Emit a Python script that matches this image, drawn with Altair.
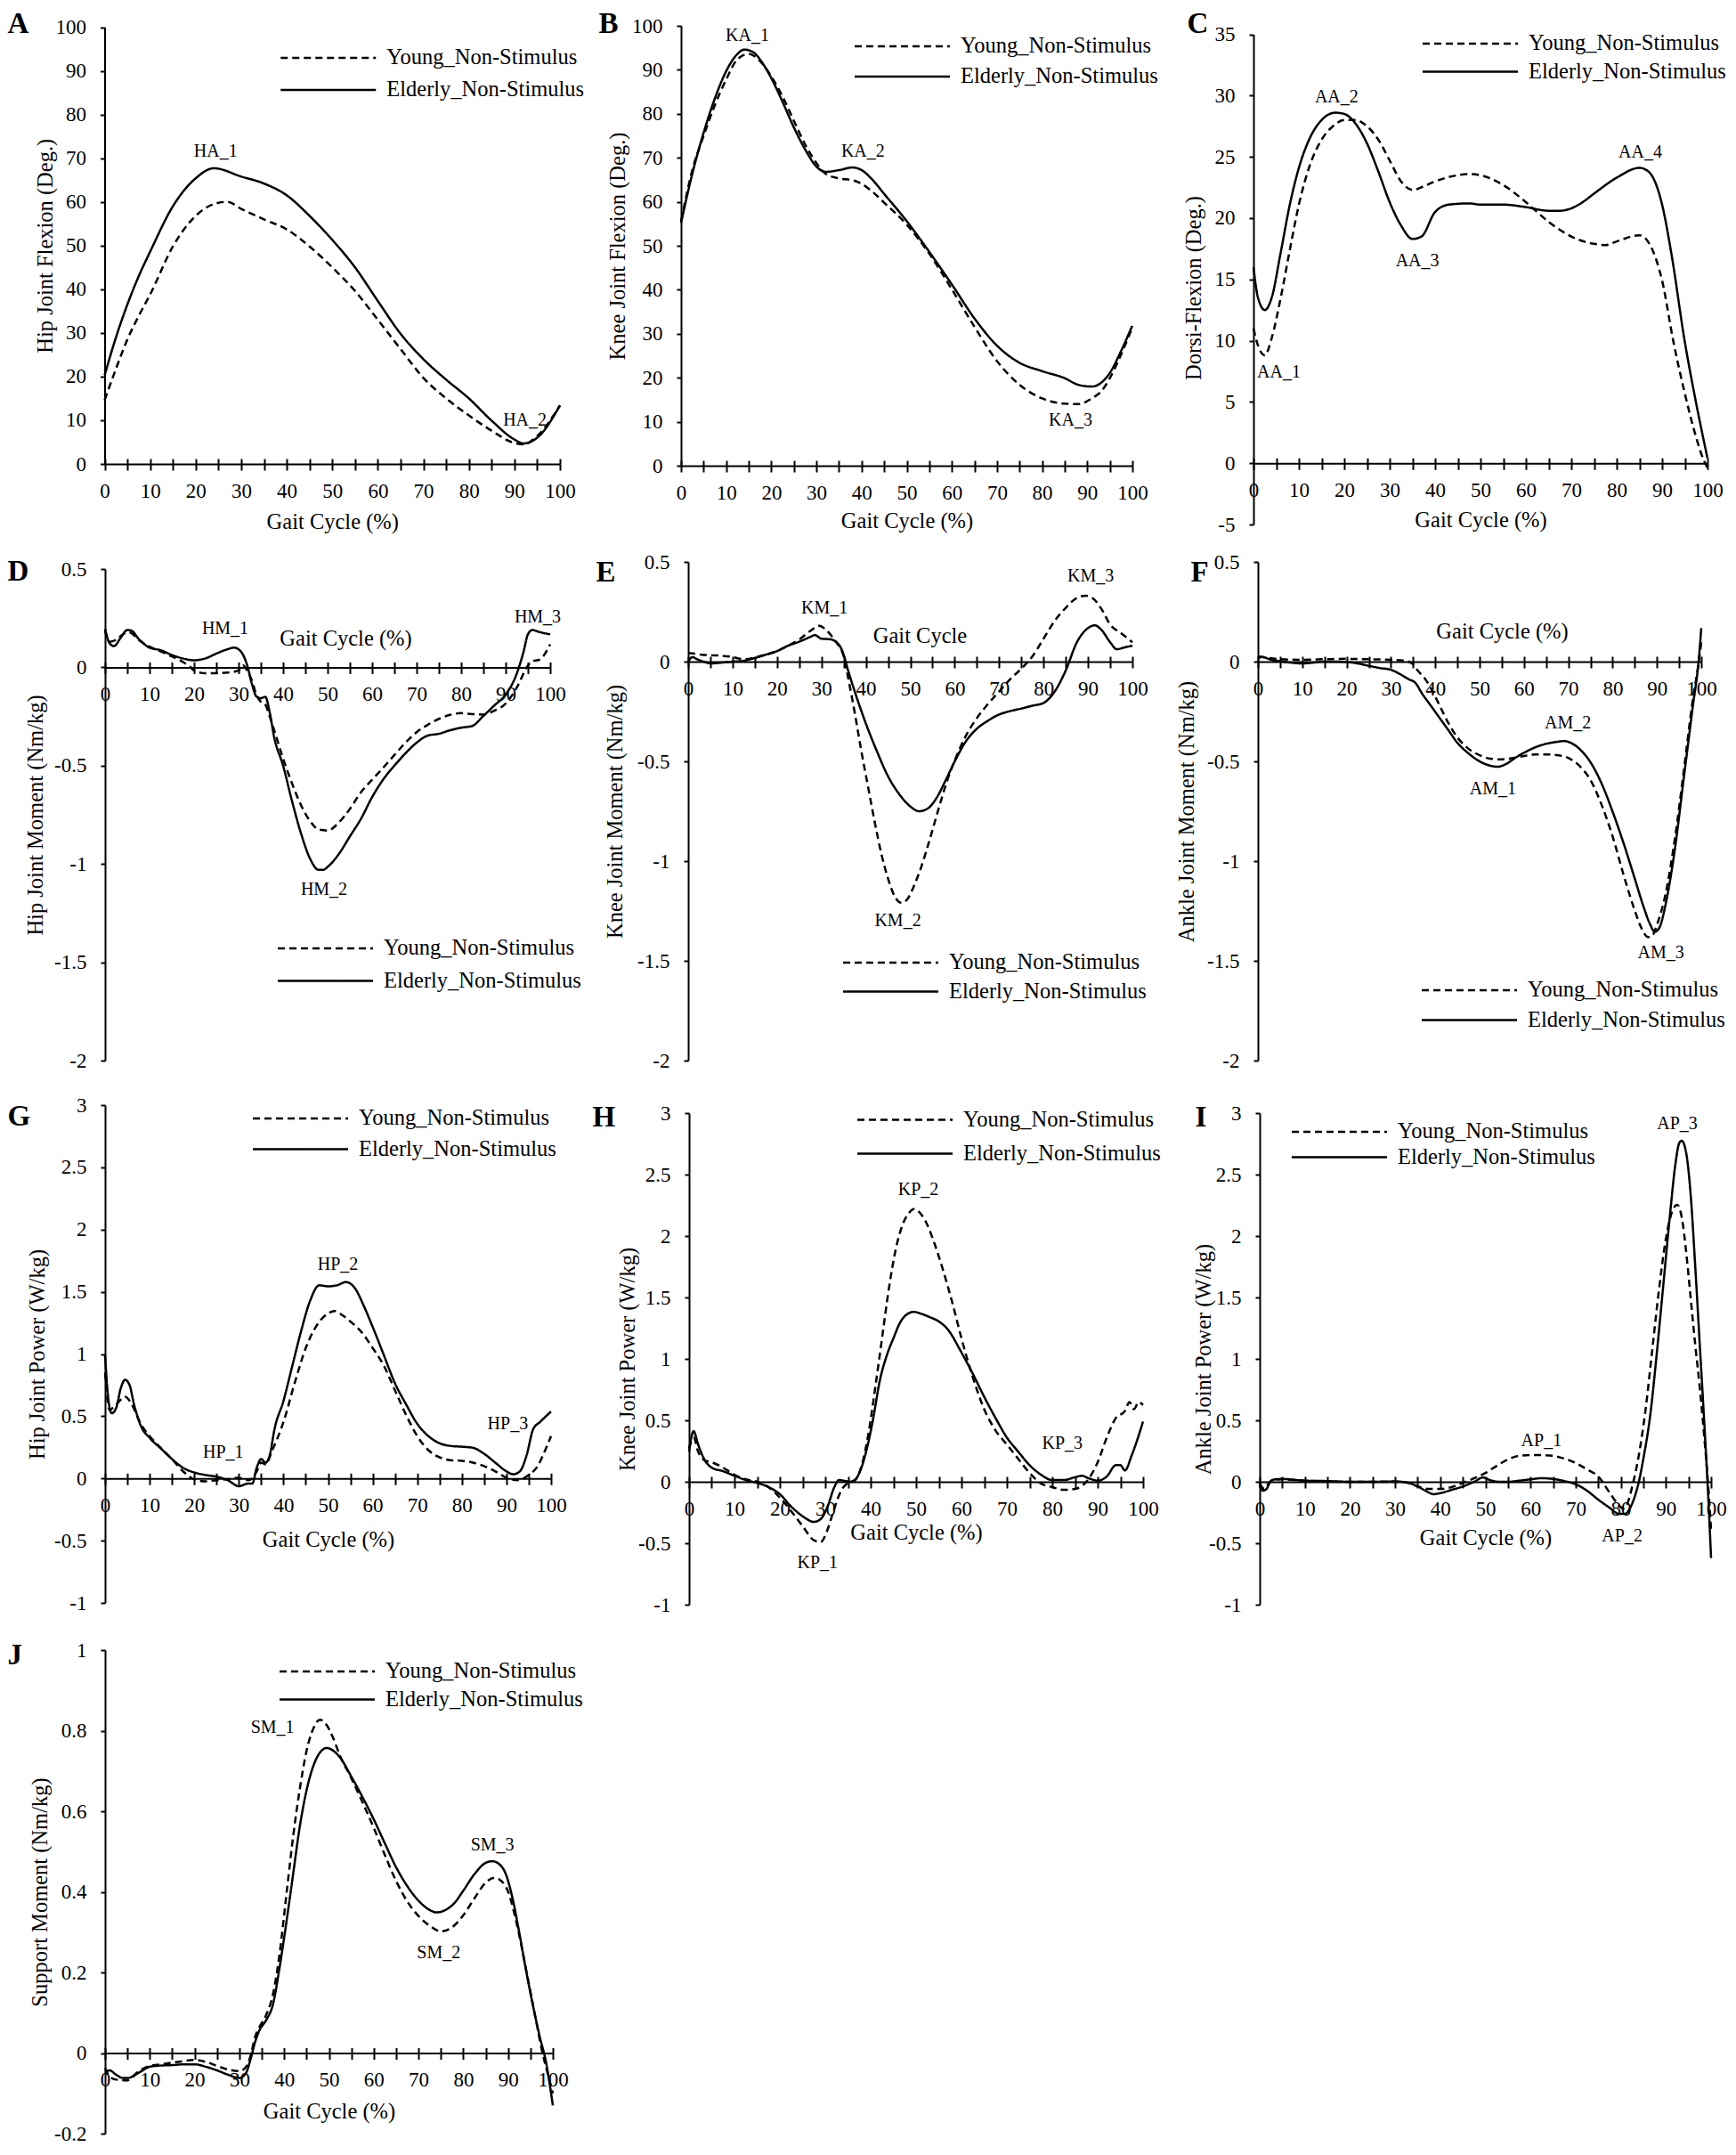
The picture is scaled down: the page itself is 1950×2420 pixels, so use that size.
import altair as alt
import pandas as pd

# ---------------- data ----------------
YOUNG = "Young_Non-Stimulus"
ELDER = "Elderly_Non-Stimulus"

# A  Hip joint flexion (deg)
A_YOUNG_X = [0, 2.5, 5, 7.5, 10, 15, 20, 25, 27, 30, 35, 40, 45, 50, 55, 60, 65, 70, 75, 80, 85, 90, 92, 95, 100]
A_YOUNG_Y = [14.6, 21.8, 28.5, 33.9, 38.8, 49.8, 56.8, 59.8, 60, 58.4, 56, 53.7, 49.8, 45, 39.6, 33, 26.3, 19.7, 15, 11.1, 7.6, 4.8, 4.5, 6.4, 13.4]
A_ELDER_X = [0, 2.5, 5, 7.5, 10, 15, 20, 24, 30, 35, 40, 45, 50, 55, 60, 65, 70, 75, 80, 85, 90, 92, 95, 100]
A_ELDER_Y = [20.3, 29, 36.5, 43, 48.6, 59, 65.4, 67.7, 65.8, 64.2, 61.5, 56.8, 51.3, 45, 37.3, 29.8, 24, 19.3, 15, 9.9, 5.6, 4.7, 6, 13.4]
A_LABELS = ["HA_1", "HA_2"]
A_LABEL_X = [24.4, 92.3]
A_LABEL_Y = [71.6, 9.9]

# B  Knee joint flexion (deg)
B_YOUNG_X = [0, 2.5, 5, 7.5, 10, 12.5, 15, 17.5, 20, 22.5, 25, 27.5, 30, 32, 35, 38, 40, 42.5, 45, 50, 55, 60, 65, 70, 75, 80, 85, 88, 91, 93, 95, 97.5, 100]
B_YOUNG_Y = [55.6, 67.2, 75, 82, 87.8, 92.4, 93.6, 92, 88.5, 83.9, 78.4, 73, 68.8, 66.4, 65.3, 64.9, 64.1, 62.2, 59.8, 54.8, 48.2, 40.1, 31.6, 23.8, 18.4, 15.3, 14.1, 14, 15.3, 16.8, 19.9, 25.3, 31.5]
B_ELDER_X = [0, 2.5, 5, 7.5, 10, 12.5, 14, 16, 18, 20, 22.5, 25, 27.5, 30, 32, 35, 38, 40, 42.5, 45, 50, 55, 60, 65, 70, 75, 80, 85, 88, 91, 93, 95, 97.5, 100]
B_ELDER_Y = [55.2, 66.4, 75.7, 83.5, 89.7, 93.6, 94.6, 94, 91.6, 88.1, 82.7, 76.9, 71.9, 68, 66.8, 67.2, 67.8, 67.2, 64.9, 61.8, 55.6, 48.6, 41.2, 33.5, 27.3, 23.4, 21.5, 19.9, 18.4, 18, 18.8, 21.1, 26.1, 31.9]
B_LABELS = ["KA_1", "KA_2", "KA_3"]
B_LABEL_X = [14.7, 40.3, 86.3]
B_LABEL_Y = [97.8, 71.5, 10.4]

# C  Dorsi-flexion (deg)
C_YOUNG_X = [0, 1, 2.5, 4, 6, 8, 10, 12.5, 15, 17.5, 20, 22.5, 25, 27.5, 30, 32.5, 35, 37.5, 40, 45, 47.5, 50, 55, 60, 65, 70, 75, 77.5, 80, 85, 87.5, 90, 92.5, 95, 97.5, 99, 100]
C_YOUNG_Y = [11, 9.6, 8.8, 10.2, 13.5, 17.4, 21.1, 24.4, 26.4, 27.5, 28, 28, 27.5, 26.4, 24.7, 23, 22.3, 22.6, 23, 23.5, 23.6, 23.5, 22.7, 21.3, 19.7, 18.5, 17.9, 17.8, 18.1, 18.6, 17.7, 14.9, 9.9, 5.7, 2.1, 0.4, -0.4]
C_ELDER_X = [0, 1, 2.5, 4, 6, 8, 10, 12.5, 15, 18, 20, 22.5, 25, 27.5, 30, 32.5, 35, 37, 40, 43, 47.5, 50, 55, 60, 65, 67.5, 70, 72.5, 75, 80, 85, 87, 90, 92, 95, 97.5, 100]
C_ELDER_Y = [16, 13.5, 12.5, 13.5, 17.2, 21.1, 24.1, 26.6, 28, 28.6, 28.5, 27.7, 26.1, 23.8, 21.3, 19.4, 18.3, 18.5, 20.5, 21.1, 21.2, 21.1, 21.1, 20.9, 20.6, 20.6, 20.8, 21.3, 22, 23.3, 24.1, 23.8, 21.1, 17.2, 9.9, 4.9, 0.4]
C_LABELS = ["AA_1", "AA_2", "AA_3", "AA_4"]
C_LABEL_X = [5.6, 18.3, 36.1, 85.2]
C_LABEL_Y = [7.4, 29.9, 16.5, 25.4]

# D  Hip joint moment (Nm/kg)
D_YOUNG_X = [0, 1, 2.5, 4, 5.5, 7.5, 10, 12.5, 15, 17.5, 19, 20, 22.5, 25, 27.5, 30, 31, 32, 33, 34, 35, 36, 37, 38, 40, 42, 44, 46, 48, 50, 52.5, 55, 57.5, 60, 62.5, 65, 67.5, 70, 72.5, 75, 77.5, 80, 82.5, 85, 87.5, 90, 92.5, 95, 96, 97.5, 100]
D_YOUNG_Y = [0.186, 0.13, 0.14, 0.168, 0.177, 0.14, 0.105, 0.081, 0.056, 0.027, 0.005, -0.016, -0.03, -0.03, -0.027, -0.016, 0.01, -0.02, -0.067, -0.14, -0.175, -0.19, -0.25, -0.32, -0.464, -0.59, -0.7, -0.78, -0.825, -0.83, -0.79, -0.72, -0.635, -0.572, -0.51, -0.446, -0.383, -0.33, -0.292, -0.262, -0.242, -0.233, -0.238, -0.24, -0.22, -0.184, -0.103, 0.009, 0.032, 0.038, 0.117]
D_ELDER_X = [0, 1, 2, 3.5, 5, 6, 7.5, 10, 12.5, 15, 17.5, 20, 22.5, 25, 27.5, 29, 30.5, 32, 33, 34, 35, 36, 37, 38, 40, 42, 44, 46, 48, 49, 50, 52.5, 55, 57.5, 60, 62.5, 65, 67.5, 70, 72.5, 75, 77.5, 80, 82.5, 85, 87.5, 90, 92.5, 94, 95, 96, 97.5, 100]
D_ELDER_Y = [0.195, 0.123, 0.108, 0.15, 0.19, 0.186, 0.146, 0.1, 0.087, 0.063, 0.045, 0.036, 0.045, 0.07, 0.092, 0.1, 0.081, 0.005, -0.085, -0.148, -0.157, -0.15, -0.23, -0.356, -0.5, -0.68, -0.843, -0.97, -1.03, -1.03, -1.015, -0.95, -0.86, -0.77, -0.66, -0.57, -0.5, -0.437, -0.383, -0.347, -0.338, -0.32, -0.307, -0.298, -0.247, -0.193, -0.139, -0.031, 0.078, 0.168, 0.19, 0.18, 0.168]
D_LABELS = ["HM_1", "HM_2", "HM_3"]
D_LABEL_X = [27, 49.2, 97.2]
D_LABEL_Y = [0.195, -1.13, 0.256]

# E  Knee joint moment (Nm/kg)
E_YOUNG_X = [0, 1.5, 3, 5, 7.5, 10, 12.5, 15, 17.5, 20, 22.5, 25, 27.5, 29.5, 31, 33, 35, 36, 37.5, 39, 40.5, 42, 43.5, 45, 46.5, 48, 49.5, 51, 52.5, 54, 55.5, 57, 58.5, 60, 62.5, 65, 67.5, 70, 72.5, 75, 77.5, 80, 82.5, 85, 87.5, 89.5, 91, 93, 95, 97.5, 100]
E_YOUNG_Y = [0.044, 0.04, 0.035, 0.032, 0.03, 0.023, 0.012, 0.021, 0.035, 0.053, 0.08, 0.111, 0.154, 0.18, 0.16, 0.106, 0.027, -0.08, -0.257, -0.451, -0.628, -0.805, -0.965, -1.088, -1.177, -1.209, -1.186, -1.115, -1.027, -0.92, -0.805, -0.69, -0.584, -0.496, -0.372, -0.283, -0.212, -0.15, -0.088, -0.035, 0.027, 0.115, 0.204, 0.27, 0.319, 0.33, 0.319, 0.265, 0.186, 0.142, 0.097]
E_ELDER_X = [0, 1, 2, 3.5, 5, 7.5, 10, 12.5, 15, 17.5, 20, 22.5, 25, 27.5, 28.5, 30, 32, 34, 35, 36, 37.5, 40, 42.5, 45, 47.5, 50, 52, 54, 56, 58, 60, 62.5, 65, 67.5, 70, 72.5, 75, 77.5, 80, 82.5, 85, 87.5, 90, 91.5, 93, 95, 96.5, 98, 100]
E_ELDER_Y = [0, 0.023, 0.012, 0, -0.009, -0.005, 0, 0.004, 0.018, 0.035, 0.053, 0.08, 0.1, 0.124, 0.133, 0.115, 0.112, 0.083, 0.035, -0.044, -0.15, -0.31, -0.45, -0.575, -0.664, -0.726, -0.75, -0.735, -0.68, -0.593, -0.5, -0.4, -0.336, -0.296, -0.265, -0.248, -0.235, -0.221, -0.207, -0.15, -0.044, 0.097, 0.168, 0.182, 0.16, 0.097, 0.062, 0.07, 0.08]
E_LABELS = ["KM_1", "KM_2", "KM_3"]
E_LABEL_X = [30.7, 47.2, 90.6]
E_LABEL_Y = [0.269, -1.297, 0.428]

# F  Ankle joint moment (Nm/kg)
F_YOUNG_X = [0, 2.5, 5, 10, 15, 20, 25, 30, 33, 35, 36, 37.5, 39, 41, 43, 45, 47.5, 50, 52.5, 55, 57.5, 60, 62.5, 65, 67.5, 70, 72.5, 75, 77.5, 80, 82.5, 85, 86.5, 88, 89, 90, 92, 94, 96, 98, 99.5, 100]
F_YOUNG_Y = [0.027, 0.018, 0.012, 0.009, 0.012, 0.014, 0.012, 0.009, 0.005, -0.012, -0.044, -0.08, -0.133, -0.221, -0.31, -0.38, -0.437, -0.469, -0.487, -0.49, -0.483, -0.473, -0.465, -0.465, -0.469, -0.483, -0.522, -0.593, -0.717, -0.876, -1.071, -1.248, -1.336, -1.381, -1.372, -1.319, -1.159, -0.894, -0.558, -0.204, 0.009, 0.097]
F_ELDER_X = [0, 1, 3, 5, 7.5, 10, 12.5, 15, 17.5, 20, 22.5, 25, 27.5, 30, 32, 34, 35.5, 37, 39, 41, 43, 45, 47.5, 50, 52.5, 54, 56, 58, 60, 62.5, 65, 67.5, 69, 71, 73, 75, 77.5, 80, 82.5, 85, 87, 88.5, 89.5, 90.5, 92, 94, 96, 98, 99.5, 100]
F_ELDER_Y = [0.018, 0.023, 0.009, 0.002, -0.005, -0.009, -0.005, 0, 0, -0.002, -0.009, -0.021, -0.032, -0.041, -0.062, -0.088, -0.106, -0.159, -0.221, -0.283, -0.345, -0.407, -0.46, -0.5, -0.522, -0.527, -0.513, -0.483, -0.457, -0.43, -0.412, -0.402, -0.398, -0.412, -0.448, -0.504, -0.61, -0.752, -0.912, -1.088, -1.23, -1.319, -1.354, -1.336, -1.212, -0.947, -0.593, -0.239, 0.027, 0.168]
F_LABELS = ["AM_1", "AM_2", "AM_3"]
F_LABEL_X = [53, 69.9, 90.9]
F_LABEL_Y = [-0.637, -0.31, -1.46]

# G  Hip joint power (W/kg)
G_YOUNG_X = [0, 1, 2.5, 4.5, 6, 8, 10, 12.5, 15, 17.5, 20, 22.5, 25, 27.5, 30, 32, 33, 34, 35, 36, 37.5, 40, 42.5, 45, 47.5, 50, 51.5, 53, 55, 57.5, 60, 62.5, 65, 67.5, 70, 72.5, 75, 77.5, 80, 82.5, 85, 87.5, 90, 92.5, 95, 97, 98.5, 100]
G_YOUNG_Y = [0.85, 0.552, 0.595, 0.657, 0.595, 0.439, 0.34, 0.246, 0.156, 0.057, -0.008, -0.023, -0.014, -0.006, 0.006, -0.014, 0, 0.057, 0.127, 0.113, 0.227, 0.453, 0.765, 1.048, 1.232, 1.326, 1.346, 1.317, 1.261, 1.176, 1.048, 0.907, 0.708, 0.51, 0.34, 0.227, 0.17, 0.147, 0.142, 0.127, 0.099, 0.057, 0.006, -0.014, 0.028, 0.099, 0.212, 0.34]
G_ELDER_X = [0, 0.7, 1.5, 2.5, 3.5, 4.5, 5.5, 6.5, 8, 10, 12.5, 15, 17.5, 20, 22.5, 25, 27.5, 30, 32, 33, 34, 35, 36, 37, 38, 40, 42, 44, 46, 48, 50, 52, 54, 56, 58, 60, 62.5, 65, 67.5, 70, 72.5, 75, 77.5, 80, 82.5, 85, 87.5, 90, 91.5, 93, 94.5, 96, 97.5, 100]
G_ELDER_Y = [0.99, 0.65, 0.524, 0.567, 0.722, 0.793, 0.75, 0.595, 0.425, 0.326, 0.241, 0.156, 0.085, 0.048, 0.028, 0.014, -0.014, -0.062, -0.042, -0.042, 0.085, 0.156, 0.127, 0.198, 0.397, 0.623, 0.907, 1.19, 1.43, 1.552, 1.544, 1.552, 1.578, 1.53, 1.388, 1.218, 0.992, 0.765, 0.595, 0.439, 0.34, 0.283, 0.261, 0.255, 0.246, 0.198, 0.127, 0.057, 0.034, 0.057, 0.184, 0.397, 0.453, 0.538]
G_LABELS = ["HP_1", "HP_2", "HP_3"]
G_LABEL_X = [26.5, 52.2, 90.3]
G_LABEL_Y = [0.212, 1.722, 0.439]

# H  Knee joint power (W/kg)
H_YOUNG_X = [0, 1, 2, 3.5, 5, 7.5, 10, 12.5, 15, 17.5, 20, 22.5, 25, 27.5, 29, 30.5, 32, 33.5, 35, 36.5, 38, 39.5, 41, 42.5, 44, 45.5, 47, 48.5, 49.5, 51, 52.5, 54, 56, 58, 60, 62.5, 65, 67.5, 70, 72.5, 75, 77.5, 80, 82.5, 85, 87.5, 90, 92, 94, 96, 97, 98, 99, 100]
H_YOUNG_Y = [0.274, 0.36, 0.245, 0.173, 0.159, 0.115, 0.058, 0.02, 0, -0.043, -0.13, -0.239, -0.36, -0.476, -0.49, -0.389, -0.216, -0.072, -0.009, 0.014, 0.13, 0.389, 0.764, 1.167, 1.57, 1.888, 2.089, 2.19, 2.219, 2.182, 2.089, 1.945, 1.715, 1.455, 1.167, 0.85, 0.591, 0.418, 0.303, 0.187, 0.072, -0.014, -0.043, -0.066, -0.058, 0, 0.159, 0.36, 0.519, 0.576, 0.648, 0.591, 0.648, 0.625]
H_ELDER_X = [0, 0.5, 1, 2, 3.5, 5, 7.5, 10, 12.5, 15, 17.5, 20, 22.5, 25, 27.5, 29, 30.5, 32, 33, 34.5, 36, 37.5, 39, 40.5, 42, 43.5, 45, 46.5, 48, 49.5, 51, 53, 55, 57, 60, 62.5, 65, 67.5, 70, 72.5, 75, 77.5, 80, 82.5, 85, 86.5, 88, 90, 92, 94, 95, 96, 97.5, 100]
H_ELDER_Y = [0.245, 0.36, 0.412, 0.303, 0.173, 0.115, 0.086, 0.049, 0.014, -0.009, -0.043, -0.101, -0.202, -0.28, -0.326, -0.303, -0.202, -0.043, 0.014, 0.006, 0, 0.072, 0.245, 0.504, 0.821, 1.023, 1.167, 1.297, 1.363, 1.383, 1.369, 1.34, 1.305, 1.239, 1.052, 0.879, 0.692, 0.519, 0.36, 0.245, 0.135, 0.058, 0.014, 0.014, 0.037, 0.049, 0.029, 0.009, 0.043, 0.135, 0.135, 0.092, 0.216, 0.49]
H_LABELS = ["KP_1", "KP_2", "KP_3"]
H_LABEL_X = [28.3, 50.5, 82.2]
H_LABEL_Y = [-0.657, 2.378, 0.308]

# I  Ankle joint power (W/kg)
I_YOUNG_X = [0, 1, 2, 3, 5, 10, 20, 30, 33, 35, 37.5, 40, 42.5, 45, 47.5, 50, 52.5, 55, 57.5, 60, 62.5, 65, 67.5, 70, 72.5, 75, 77.5, 79.5, 80.5, 81.5, 82.5, 84, 85.5, 87, 88.5, 90, 91.5, 92.5, 93.5, 94.5, 95.5, 96.5, 97.5, 98.5, 99.5, 100]
I_YOUNG_Y = [-0.014, -0.058, -0.014, 0.014, 0.02, 0.009, 0, 0, -0.009, -0.038, -0.058, -0.058, -0.043, -0.009, 0.029, 0.072, 0.13, 0.182, 0.211, 0.217, 0.217, 0.211, 0.188, 0.153, 0.101, 0.043, -0.087, -0.188, -0.217, -0.173, -0.043, 0.217, 0.592, 1.084, 1.575, 1.98, 2.211, 2.254, 2.153, 1.864, 1.488, 1.113, 0.766, 0.361, -0.101, -0.39]
I_ELDER_X = [0, 0.7, 1.5, 2.5, 3.5, 5, 10, 15, 20, 25, 30, 33, 35, 37, 38.5, 40, 42.5, 45, 47.5, 49.5, 51, 53, 55, 57.5, 60, 62.5, 65, 67.5, 70, 72.5, 75, 77.5, 79.5, 81, 82, 83, 84, 85, 86.5, 88, 89.5, 91, 92, 93, 93.5, 94.5, 95.5, 96.5, 97.5, 98.5, 99.5, 100]
I_ELDER_Y = [-0.029, -0.072, -0.058, 0.009, 0.02, 0.023, 0.009, 0.006, 0, 0, 0.003, -0.009, -0.038, -0.078, -0.101, -0.092, -0.066, -0.038, 0, 0.035, 0.014, 0, 0, 0.009, 0.02, 0.029, 0.023, 0.006, -0.02, -0.072, -0.145, -0.211, -0.26, -0.26, -0.217, -0.13, 0, 0.188, 0.535, 1.055, 1.633, 2.211, 2.558, 2.76, 2.775, 2.673, 2.327, 1.749, 1.113, 0.477, -0.217, -0.621]
I_LABELS = ["AP_1", "AP_2", "AP_3"]
I_LABEL_X = [62.4, 80.3, 92.5]
I_LABEL_Y = [0.332, -0.442, 2.91]

# J  Support moment (Nm/kg)
J_YOUNG_X = [0, 1, 2.5, 5, 7.5, 10, 12.5, 15, 17.5, 20, 22.5, 25, 27.5, 30, 31.5, 32.5, 33.5, 34.5, 36, 37.5, 39, 40.5, 42, 43.5, 45, 46.5, 48, 49.5, 51, 52.5, 55, 57.5, 60, 62.5, 65, 67.5, 70, 72.5, 75, 77.5, 80, 82.5, 85, 87, 88.5, 90, 91.5, 93, 94.5, 96, 97.5, 99, 100]
J_YOUNG_Y = [-0.037, -0.058, -0.066, -0.068, -0.045, -0.032, -0.028, -0.024, -0.02, -0.017, -0.022, -0.032, -0.041, -0.045, -0.034, -0.007, 0.04, 0.065, 0.095, 0.146, 0.248, 0.393, 0.537, 0.656, 0.75, 0.805, 0.827, 0.814, 0.78, 0.737, 0.682, 0.622, 0.559, 0.491, 0.427, 0.376, 0.34, 0.316, 0.302, 0.312, 0.342, 0.384, 0.423, 0.435, 0.427, 0.401, 0.342, 0.265, 0.18, 0.095, 0.01, -0.058, -0.1]
J_ELDER_X = [0, 1, 2.5, 4, 5, 7.5, 10, 12.5, 15, 17.5, 20, 22.5, 25, 27.5, 30, 31.5, 32.5, 33.5, 34.5, 36, 37.5, 39, 40.5, 42, 43.5, 45, 46.5, 48, 49.5, 51, 52.5, 55, 57.5, 60, 62.5, 65, 67.5, 70, 72.5, 74, 76, 78, 80, 82.5, 85, 86.5, 88, 89.5, 91, 92.5, 94, 95.5, 97, 98.5, 100]
J_ELDER_Y = [-0.049, -0.043, -0.054, -0.062, -0.062, -0.049, -0.034, -0.031, -0.03, -0.028, -0.028, -0.034, -0.043, -0.054, -0.062, -0.049, -0.015, 0.027, 0.057, 0.082, 0.121, 0.214, 0.325, 0.444, 0.563, 0.652, 0.712, 0.746, 0.757, 0.75, 0.733, 0.686, 0.635, 0.58, 0.52, 0.461, 0.414, 0.378, 0.355, 0.349, 0.355, 0.372, 0.403, 0.444, 0.472, 0.476, 0.469, 0.444, 0.384, 0.299, 0.206, 0.121, 0.044, -0.024, -0.13]
J_LABELS = ["SM_1", "SM_2", "SM_3"]
J_LABEL_X = [37.4, 74.5, 86.5]
J_LABEL_Y = [0.807, 0.248, 0.516]

# y tick values
TICKS_DEG = [0, 10, 20, 30, 40, 50, 60, 70, 80, 90, 100]
TICKS_DORSI = [-5, 0, 5, 10, 15, 20, 25, 30, 35]
TICKS_MOMENT = [-2, -1.5, -1, -0.5, 0, 0.5]
TICKS_POWER = [-1, -0.5, 0, 0.5, 1, 1.5, 2, 2.5, 3]
TICKS_SUPPORT = [-0.2, 0, 0.2, 0.4, 0.6, 0.8, 1]
X_TICKS = list(range(0, 101, 5))

# ---------------- layout (pixels, chart coordinates) ----------------
W, H = 1934, 2400
FONT = "Liberation Serif"

PANELS = [
    dict(key="A", data=(A_YOUNG_X, A_YOUNG_Y, A_ELDER_X, A_ELDER_Y, A_LABELS, A_LABEL_X, A_LABEL_Y),
         xr=[109.5, 621], yr=[513, 22.5], ydom=[0, 100], yvals=TICKS_DEG,
         ytitle="Hip Joint Flexion (Deg.)", ytx=-66, yty=None,
         xtitle="Gait Cycle (%)", xtx=None, xty=65,
         lx=307, ly=44.75, rp=11, letter=(0, 28)),
    dict(key="B", data=(B_YOUNG_X, B_YOUNG_Y, B_ELDER_X, B_ELDER_Y, B_LABELS, B_LABEL_X, B_LABEL_Y),
         xr=[757, 1264], yr=[515, 21], ydom=[0, 100], yvals=TICKS_DEG,
         ytitle="Knee Joint Flexion (Deg.)", ytx=-71, yty=None,
         xtitle="Gait Cycle (%)", xtx=None, xty=62,
         lx=951.75, ly=31.75, rp=9, letter=(664, 28)),
    dict(key="C", data=(C_YOUNG_X, C_YOUNG_Y, C_ELDER_X, C_ELDER_Y, C_LABELS, C_LABEL_X, C_LABEL_Y),
         xr=[1400, 1910], yr=[581, 30.5], ydom=[-5, 35], yvals=TICKS_DORSI,
         ytitle="Dorsi-Flexion (Deg.)", ytx=-67, yty=315,
         xtitle="Gait Cycle (%)", xtx=None, xty=64,
         lx=1589.75, ly=28.75, rp=6.5, letter=(1325, 28)),
    dict(key="D", data=(D_YOUNG_X, D_YOUNG_Y, D_ELDER_X, D_ELDER_Y, D_LABELS, D_LABEL_X, D_LABEL_Y),
         xr=[110, 610], yr=[1183, 631], ydom=[-2, 0.5], yvals=TICKS_MOMENT,
         ytitle="Hip Joint Moment (Nm/kg)", ytx=-78, yty=None,
         xtitle="Gait Cycle (%)", xtx=380, xty=-32,
         lx=303.75, ly=1044.75, rp=11.5, letter=(0, 643)),
    dict(key="E", data=(E_YOUNG_X, E_YOUNG_Y, E_ELDER_X, E_ELDER_Y, E_LABELS, E_LABEL_X, E_LABEL_Y),
         xr=[765, 1264], yr=[1183, 623], ydom=[-2, 0.5], yvals=TICKS_MOMENT,
         ytitle="Knee Joint Moment (Nm/kg)", ytx=-82, yty=None,
         xtitle="Gait Cycle", xtx=1025, xty=-29,
         lx=938.75, ly=1060.75, rp=7.5, letter=(661, 644)),
    dict(key="F", data=(F_YOUNG_X, F_YOUNG_Y, F_ELDER_X, F_ELDER_Y, F_LABELS, F_LABEL_X, F_LABEL_Y),
         xr=[1405, 1903], yr=[1183, 623], ydom=[-2, 0.5], yvals=TICKS_MOMENT,
         ytitle="Ankle Joint Moment (Nm/kg)", ytx=-80, yty=None,
         xtitle="Gait Cycle (%)", xtx=1679, xty=-34,
         lx=1588.75, ly=1091.75, rp=8.5, letter=(1329, 644)),
    dict(key="G", data=(G_YOUNG_X, G_YOUNG_Y, G_ELDER_X, G_ELDER_Y, G_LABELS, G_LABEL_X, G_LABEL_Y),
         xr=[110, 611], yr=[1792, 1233], ydom=[-1, 3], yvals=TICKS_POWER,
         ytitle="Hip Joint Power (W/kg)", ytx=-76, yty=None,
         xtitle="Gait Cycle (%)", xtx=None, xty=69,
         lx=275.75, ly=1235.75, rp=9.5, letter=(0, 1255)),
    dict(key="H", data=(H_YOUNG_X, H_YOUNG_Y, H_ELDER_X, H_ELDER_Y, H_LABELS, H_LABEL_X, H_LABEL_Y),
         xr=[766, 1276], yr=[1794, 1242], ydom=[-1, 3], yvals=TICKS_POWER,
         ytitle="Knee Joint Power (W/kg)", ytx=-69, yty=None,
         xtitle="Gait Cycle (%)", xtx=None, xty=57,
         lx=954.75, ly=1237.25, rp=13, letter=(657, 1256)),
    dict(key="I", data=(I_YOUNG_X, I_YOUNG_Y, I_ELDER_X, I_ELDER_Y, I_LABELS, I_LABEL_X, I_LABEL_Y),
         xr=[1407, 1914], yr=[1794, 1242], ydom=[-1, 3], yvals=TICKS_POWER,
         ytitle="Ankle Joint Power (W/kg)", ytx=-63, yty=None,
         xtitle="Gait Cycle (%)", xtx=None, xty=63,
         lx=1442.75, ly=1250.75, rp=3.5, letter=(1334, 1256)),
    dict(key="J", data=(J_YOUNG_X, J_YOUNG_Y, J_ELDER_X, J_ELDER_Y, J_LABELS, J_LABEL_X, J_LABEL_Y),
         xr=[110, 613], yr=[2388, 1845], ydom=[-0.2, 1], yvals=TICKS_SUPPORT,
         ytitle="Support Moment (Nm/kg)", ytx=-73, yty=None,
         xtitle="Gait Cycle (%)", xtx=None, xty=66,
         lx=305.75, ly=1856.75, rp=6.5, letter=(0, 1860)),
]


def build_panel(p):
    yx, yy, ex, ey, labels, lxs, lys = p["data"]
    df = pd.DataFrame({
        "pct": list(yx) + list(ex),
        "val": list(yy) + list(ey),
        "grp": [YOUNG] * len(yx) + [ELDER] * len(ex),
    })
    ann = pd.DataFrame({"ax": lxs, "ay": lys, "lbl": labels})

    dmin, dmax = p["ydom"]
    ybot, ytop = p["yr"]
    y0 = ytop + (dmax - 0) / (dmax - dmin) * (ybot - ytop)

    xs = alt.Scale(domain=[0, 100], range=p["xr"], nice=False, zero=False)
    ys = alt.Scale(domain=p["ydom"], range=p["yr"], nice=False, zero=False)

    ykw = dict(orient="left", offset=-p["xr"][0], values=p["yvals"],
               labelExpr="'' + datum.value", tickSize=5, labelPadding=16,
               title=p["ytitle"], titleX=p["ytx"], titleAngle=270,
               titleBaseline="middle", titleAlign="center", titleLimit=1000)
    ykw["titleY"] = p["yty"] if p["yty"] is not None else (ybot + ytop) / 2
    yaxis = alt.Axis(**ykw)

    xkw = dict(orient="bottom", offset=y0 - H, values=X_TICKS,
               labelExpr="datum.value % 10 == 0 ? '' + datum.value : ''",
               tickSize=7, labelPadding=23, labelBaseline="middle",
               title=p["xtitle"], titleY=p["xty"], titleBaseline="middle",
               titleAlign="center", titleLimit=1000)
    if p["xtx"] is not None:
        xkw["titleX"] = p["xtx"]
    xaxis = alt.Axis(**xkw)

    # second x axis on the zero line: upward half of the crossing ticks + panel letter
    topaxis = alt.Axis(orient="top", offset=-y0, values=X_TICKS, labels=False,
                       domain=False, tickSize=6, title=p["key"],
                       titleX=p["letter"][0], titleY=p["letter"][1] - y0,
                       titleAlign="left", titleBaseline="alphabetic", titleAngle=0,
                       titleFontSize=33, titleFontWeight="bold")

    legend = alt.Legend(orient="none", legendX=p["lx"], legendY=p["ly"], title=None,
                        symbolType="M-1.2,0L9.5,0", symbolSize=400,
                        symbolStrokeWidth=2.5, symbolStrokeColor="black",
                        symbolOffset=0, labelOffset=94.75, labelFontSize=24.5,
                        labelColor="black", labelLimit=400, rowPadding=p["rp"],
                        padding=0)

    lines = alt.Chart(df).mark_line(color="black", strokeWidth=2.5,
                                    interpolate="monotone").encode(
        x=alt.X("pct:Q", scale=xs, axis=xaxis),
        y=alt.Y("val:Q", scale=ys, axis=yaxis),
        strokeDash=alt.StrokeDash("grp:N",
                                  scale=alt.Scale(domain=[YOUNG, ELDER], range=[[8, 5], [1, 0]]),
                                  legend=legend),
    )
    texts = alt.Chart(ann).mark_text(fontSize=20, color="black", align="center",
                                     baseline="middle").encode(
        x=alt.X("ax:Q", scale=xs, axis=topaxis),
        y=alt.Y("ay:Q", scale=ys, axis=yaxis),
        text="lbl:N",
    )
    return alt.layer(lines, texts).resolve_scale(x="shared", y="shared").resolve_axis(
        x="independent", y="shared")


chart = alt.layer(*[build_panel(p) for p in PANELS]).resolve_scale(
    x="independent", y="independent", strokeDash="independent"
).resolve_axis(x="independent", y="independent").resolve_legend(
    strokeDash="independent"
).properties(
    width=W, height=H, padding=0, autosize=alt.AutoSizeParams(type="none")
).configure_view(stroke=None).configure_axis(
    grid=False, domainColor="black", domainWidth=2, tickColor="black", tickWidth=2,
    labelColor="black", labelFont=FONT, labelFontSize=23, labelOverlap=False,
    labelFlush=False, titleColor="black", titleFont=FONT, titleFontSize=24.5,
    titleFontWeight="normal"
).configure_legend(labelFont=FONT).configure_text(font=FONT)

chart.save("out.html", embed_options={"renderer": "svg", "actions": False})
